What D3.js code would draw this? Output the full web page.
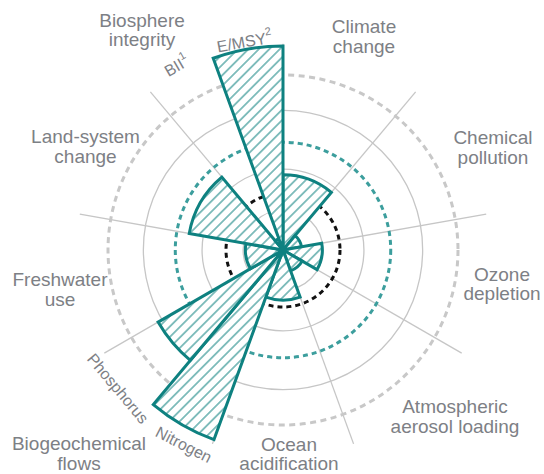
<!DOCTYPE html>
<html>
<head>
<meta charset="utf-8">
<script src="https://cdn.jsdelivr.net/npm/d3@7"></script>
<style>
html,body{margin:0;padding:0;background:#fff;}
svg{display:block;}
text{font-family:"Liberation Sans",Arial,sans-serif;fill:#7d8085;}
</style>
</head>
<body>
<svg id="chart" width="544" height="474"></svg>
<script>
// ---- data ----
const sectorNames = ["Climate change","Chemical pollution","Ozone depletion","Atmospheric aerosol loading","Ocean acidification","Biogeochemical flows","Freshwater use","Land-system change","Biosphere integrity"];
const sectorLines = [["Climate","change"],["Chemical","pollution"],["Ozone","depletion"],["Atmospheric","aerosol loading"],["Ocean","acidification"],["Biogeochemical","flows"],["Freshwater","use"],["Land-system","change"],["Biosphere","integrity"]];
const barNames   = ["Climate change","Chemical pollution","Ozone depletion","Atmospheric aerosol loading","Ocean acidification","Nitrogen","Phosphorus","Freshwater use","Land-system change","BII","E/MSY"];
const barSector  = [0,1,2,3,4,5,5,6,7,8,8];
const barPart    = [0,0,0,0,0,0,1,0,0,0,1];
const barParts   = [1,1,1,1,1,2,2,1,1,2,2];
// values as multiples of the safe boundary (boundary = 1)
const barValues  = [1.32,0.33,0.69,0.39,0.88,3.54,2.53,0.66,1.67,0.21,3.58];
const subLabels  = ["Nitrogen","Phosphorus","BII","E/MSY"];
const subLabelSup = ["","","1","2"];
const subLabelBar = [5,6,9,10];
const gridValues = [0.70,1.42,2.45];
const outerDashed = 3.07;
const highRisk = 1.89;
const boundary = 1.0;
const spokeLength = 3.62;

// ---- layout ----
const cx = 283, cy = 250;
const teal = "#0e8180";
const svg = d3.select("#chart");
const r = d3.scaleLinear().domain([0,1]).range([0,57]);
const ang = d3.scaleLinear().domain([0, sectorNames.length]).range([0, 2*Math.PI]);
const g = svg.append("g").attr("transform",`translate(${cx},${cy})`);

const defs = svg.append("defs");
const pat = defs.append("pattern").attr("id","hatch").attr("patternUnits","userSpaceOnUse")
  .attr("width",7.4).attr("height",7.4).attr("patternTransform","rotate(45)");
pat.append("line").attr("x1",3.7).attr("y1",-1).attr("x2",3.7).attr("y2",8.4)
  .attr("stroke",teal).attr("stroke-width",1.0);

// grid circles
g.selectAll("circle.grid").data(gridValues).join("circle").attr("class","grid")
  .attr("r",d=>r(d)).attr("fill","none").attr("stroke","#c6c6c6").attr("stroke-width",1.3);
// spokes
g.selectAll("line.spoke").data(d3.range(sectorNames.length)).join("line").attr("class","spoke")
  .attr("x1",0).attr("y1",0)
  .attr("x2",i=>r(spokeLength)*Math.sin(ang(i)))
  .attr("y2",i=>-r(spokeLength)*Math.cos(ang(i)))
  .attr("stroke","#c6c6c6").attr("stroke-width",1.3);
// dashed circles
g.append("circle").attr("r",r(outerDashed)).attr("fill","none").attr("stroke","#c8c8c8")
  .attr("stroke-width",3).attr("stroke-dasharray","6,4.5");
g.append("circle").attr("r",r(highRisk)).attr("fill","none").attr("stroke","#3c9e9d")
  .attr("stroke-width",3).attr("stroke-dasharray","5,4");
g.append("circle").attr("r",r(boundary)).attr("fill","none").attr("stroke","#111")
  .attr("stroke-width",3).attr("stroke-dasharray","5,4");

// bars
const arc = d3.arc().innerRadius(0)
  .outerRadius(i=>r(barValues[i]))
  .startAngle(i=>ang(barSector[i] + barPart[i]/barParts[i]))
  .endAngle(i=>ang(barSector[i] + (barPart[i]+1)/barParts[i]));
const bars = g.selectAll("g.bar").data(d3.range(barNames.length)).join("g").attr("class","bar");
bars.append("path").attr("d",arc).attr("fill","#fff");
bars.append("path").attr("d",arc).attr("fill","url(#hatch)");
bars.append("path").attr("d",arc).attr("fill","none").attr("stroke",teal)
  .attr("stroke-width",3).attr("stroke-linejoin","miter");

// sector labels (anchor positions, layout only)
const labelPos = [[364,33.3],[493,144],[502,280.7],[455,413.3],[289,450.7],[79,450],[60,286],[85.5,143.3],[142,26.7]];
sectorLines.forEach((lines,i)=>{
  const t = svg.append("text").attr("text-anchor","middle").attr("font-size",19)
    .attr("x",labelPos[i][0]).attr("y",labelPos[i][1]);
  lines.forEach((l,j)=>t.append("tspan").attr("x",labelPos[i][0]).attr("dy",j===0?0:19.6).text(l));
});

// sub-bar labels along circle (angle offset in degrees, radius in px: layout only)
const subR = [218,215,213,212];
const subShift = [-3,0,0,-0.5];
subLabels.forEach((s,k)=>{
  const bi = subLabelBar[k];
  const a = (ang(barSector[bi] + barPart[bi]/barParts[bi]) + ang(barSector[bi] + (barPart[bi]+1)/barParts[bi]))/2 + subShift[k]*Math.PI/180;
  const deg = a*180/Math.PI;
  const x = subR[k]*Math.sin(a), y = -subR[k]*Math.cos(a);
  const rot = (deg>90 && deg<270) ? deg-180 : deg-360;
  const t = g.append("text").attr("text-anchor","middle").attr("dominant-baseline","central")
    .attr("font-size",16).attr("transform",`translate(${x},${y}) rotate(${rot})`);
  t.append("tspan").text(s);
  if (subLabelSup[k]) t.append("tspan").attr("font-size",11).attr("dy",-6).text(subLabelSup[k]);
});
</script>
</body>
</html>
